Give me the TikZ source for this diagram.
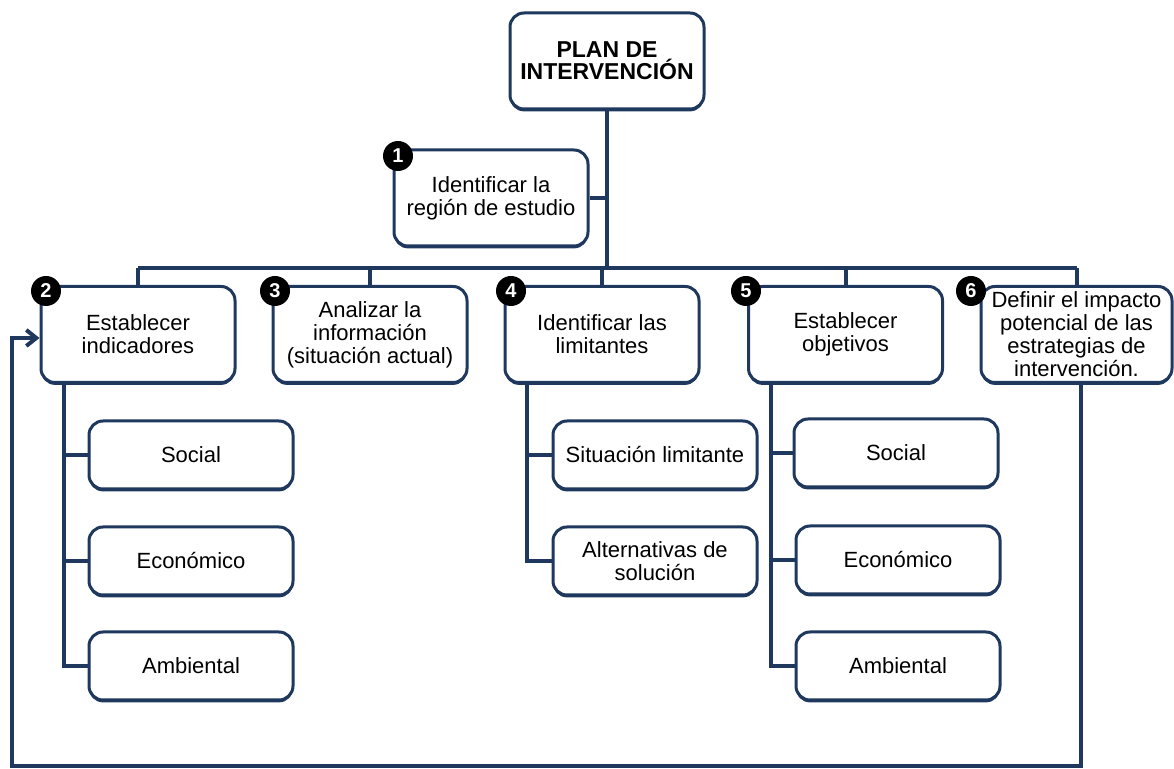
\documentclass[tikz,border=0pt]{standalone}
\usepackage{fontspec}
\setmainfont{Liberation Sans}
\usetikzlibrary{arrows.meta,shadows}
\definecolor{azul}{RGB}{31,56,94}
\tikzset{
  caja/.style={draw=azul,line width=1.5pt,rounded corners=7pt,fill=white,align=center,
    minimum width=97pt,minimum height=48pt,inner sep=1pt,
    font=\fontsize{11}{11.5}\selectfont,
    drop shadow={shadow xshift=0pt,shadow yshift=-1.2pt,fill=azul,opacity=1}},
  subcaja/.style={caja,minimum width=102pt,minimum height=34pt},
  num/.style={circle,fill=black,text=white,inner sep=0pt,minimum size=15pt,
    font=\bfseries\fontsize{10}{10}\selectfont},
  enlace/.style={draw=azul,line width=2pt},
}
\begin{document}
\begin{tikzpicture}[x=0.5pt,y=-0.5pt]
\useasboundingbox (0,0) rectangle (1174,769);
% arbol principal
\node[caja,font=\bfseries\fontsize{11.5}{11}\selectfont] (plan) at (607,61) {PLAN DE\\INTERVENCIÓN};
\node[caja] (paso1) at (491,198) {Identificar la\\región de estudio};
\node[caja] (paso2) at (138,334.5) {Establecer\\indicadores};
\node[caja] (paso3) at (370,334.5) {Analizar la\\información\\(situación actual)};
\node[caja] (paso4) at (602,334.5) {Identificar las\\limitantes};
\node[caja] (paso5) at (845.5,334.5) {Establecer\\objetivos};
\node[caja,minimum width=95.5pt] (paso6) at (1076.5,334.5) {Definir el impacto\\potencial de las\\estrategias de\\intervención.};
% hijos
\node[subcaja] (soc2) at (191,455) {Social};
\node[subcaja] (eco2) at (191,561) {Económico};
\node[subcaja] (amb2) at (191,666) {Ambiental};
\node[subcaja] (lim1) at (655,455) {Situación limitante};
\node[subcaja] (lim2) at (655,561) {Alternativas de\\solución};
\node[subcaja] (soc5) at (896,453) {Social};
\node[subcaja] (eco5) at (898,560) {Económico};
\node[subcaja] (amb5) at (898,666) {Ambiental};
% numeros
\node[num] (n1) at (398,156) {1};
\node[num] (n2) at (46,291) {2};
\node[num] (n3) at (275,291) {3};
\node[num] (n4) at (511,291) {4};
\node[num] (n5) at (746,291) {5};
\node[num] (n6) at (971,291) {6};
% conectores
\coordinate (barra) at (0,268);
\coordinate (eje2) at (64,0);
\coordinate (eje4) at (527,0);
\coordinate (eje5) at (771,0);
\coordinate (eje6) at (1081,0);
\coordinate (retorno) at (12,766);
\coordinate (entrada) at (0,338);
\draw[enlace] (plan.south) -- (plan.south |- barra);
\draw[enlace] (paso1.east) -- (paso1.east -| plan.south);
\draw[enlace] (paso2.north |- barra) -- (paso6.north |- barra);
\foreach \p in {paso2,paso3,paso4,paso5,paso6}
  \draw[enlace] (\p.north |- barra) -- (\p.north);
\draw[enlace] (paso2.south -| eje2) |- (amb2.west);
\draw[enlace] (eje2 |- soc2) -- (soc2.west);
\draw[enlace] (eje2 |- eco2) -- (eco2.west);
\draw[enlace] (paso4.south -| eje4) |- (lim2.west);
\draw[enlace] (eje4 |- lim1) -- (lim1.west);
\draw[enlace] (paso5.south -| eje5) |- (amb5.west);
\draw[enlace] (eje5 |- soc5) -- (soc5.west);
\draw[enlace] (eje5 |- eco5) -- (eco5.west);
\draw[enlace,-{Straight Barb[length=5pt,width=8pt]}] (paso6.south -| eje6) |- (retorno) |- (paso2.west |- entrada);
\end{tikzpicture}
\end{document}
